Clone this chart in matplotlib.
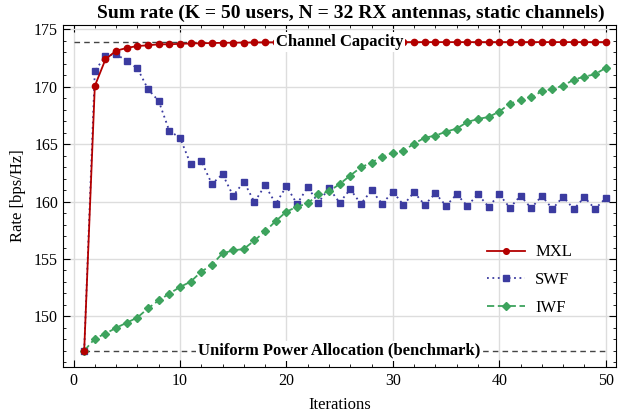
import matplotlib.pyplot as plt
import numpy as np

plt.rcParams['font.family'] = ['Liberation Serif', 'DejaVu Serif']

iterations = np.arange(1, 51)

capacity = 173.9
uniform = 147.0

mxl = [147.0, 170.08, 172.40, 173.15, 173.39, 173.56, 173.62, 173.71, 173.71, 173.75,
       173.78, 173.80, 173.82, 173.84, 173.85, 173.86, 173.87, 173.88, 173.88, 173.89,
       173.89, 173.89, 173.89, 173.9, 173.9, 173.9, 173.9, 173.9, 173.9, 173.9,
       173.9, 173.9, 173.9, 173.9, 173.9, 173.9, 173.9, 173.9, 173.9, 173.9,
       173.9, 173.9, 173.9, 173.9, 173.9, 173.9, 173.9, 173.9, 173.9, 173.9]

swf = [147.0, 171.39, 172.69, 172.87, 172.23, 171.62, 169.79, 168.77, 166.16, 165.57,
       163.28, 163.52, 161.54, 162.39, 160.50, 161.74, 159.95, 161.43, 159.80, 161.34,
       159.80, 161.25, 159.91, 161.17, 159.91, 161.08, 159.80, 160.99, 159.80, 160.87,
       159.71, 160.82, 159.71, 160.73, 159.63, 160.64, 159.63, 160.64, 159.54, 160.64,
       159.45, 160.52, 159.42, 160.50, 159.36, 160.44, 159.34, 160.38, 159.36, 160.30]

iwf = [147.0, 148.06, 148.5, 149.0, 149.45, 149.9, 150.70, 151.39, 151.98, 152.56,
       153.02, 153.89, 154.50, 155.49, 155.75, 155.87, 156.62, 157.40, 158.31, 159.12,
       159.56, 159.84, 160.63, 160.89, 161.53, 162.27, 162.99, 163.40, 163.92, 164.27,
       164.44, 165.05, 165.57, 165.75, 166.10, 166.36, 166.94, 167.20, 167.38, 167.84,
       168.54, 168.83, 169.09, 169.62, 169.82, 170.10, 170.63, 170.89, 171.10, 171.65]

fig = plt.figure(figsize=(6.29, 4.15), dpi=100)
ax = fig.add_axes([0.100, 0.116, 0.879, 0.824])

# reference lines with labels
ax.hlines(capacity, 0, 50, colors='#444444', linestyles=(0, (4, 3)), linewidth=1.0, zorder=2)
ax.hlines(uniform, 1, 50, colors='#444444', linestyles=(0, (4, 3)), linewidth=1.0, zorder=2)

ax.plot(iterations, mxl, color='#b30000', linestyle='-', linewidth=1.3,
        marker='o', markersize=4.5, label='MXL', zorder=5)
ax.plot(iterations, swf, color='#3b3ba0', linestyle=(0, (1, 2)), linewidth=1.3,
        marker='s', markersize=4.5, label='SWF', zorder=4)
ax.plot(iterations, iwf, color='#3da35d', linestyle=(0, (4, 2)), linewidth=1.3,
        marker='D', markersize=4, label='IWF', zorder=4)

box = dict(facecolor='white', edgecolor='none', pad=1.5)
ax.text(25, capacity, 'Channel Capacity', ha='center', va='center', fontsize=12,
        fontweight='bold', bbox=box, zorder=10)
ax.text(25, uniform, 'Uniform Power Allocation (benchmark)', ha='center', va='center',
        fontsize=12, fontweight='bold', bbox=box, zorder=10)

ax.set_xlim(-1, 50.95)
ax.set_ylim(145.6, 175.4)
ax.set_xticks(np.arange(0, 51, 10))
ax.set_xticks(np.arange(0, 51, 2), minor=True)
ax.set_yticks(np.arange(150, 176, 5))
ax.set_yticks(np.arange(146, 176, 1), minor=True)
ax.tick_params(which='both', direction='in', top=True, right=True, labelsize=11.5)
ax.tick_params(axis='x', which='both', pad=4.5)
ax.tick_params(which='major', length=5)
ax.tick_params(which='minor', length=2.5)
ax.grid(True, which='major', color='#dddddd', linewidth=1.0, zorder=0)
ax.set_axisbelow(True)

ax.set_xlabel('Iterations', fontsize=12, labelpad=6)
ax.set_ylabel('Rate [bps/Hz]', fontsize=12, labelpad=6)
ax.set_title('Sum rate (K = 50 users, N = 32 RX antennas, static channels)',
             fontsize=14, fontweight='bold', pad=5, x=0.52)

ax.legend(loc='center left', bbox_to_anchor=(0.767, 0.254), frameon=False, fontsize=12,
          handlelength=2.3, handletextpad=0.6, labelspacing=0.7, borderpad=0,
          borderaxespad=0, markerscale=0.9)

fig.savefig('out.png', dpi=100)
